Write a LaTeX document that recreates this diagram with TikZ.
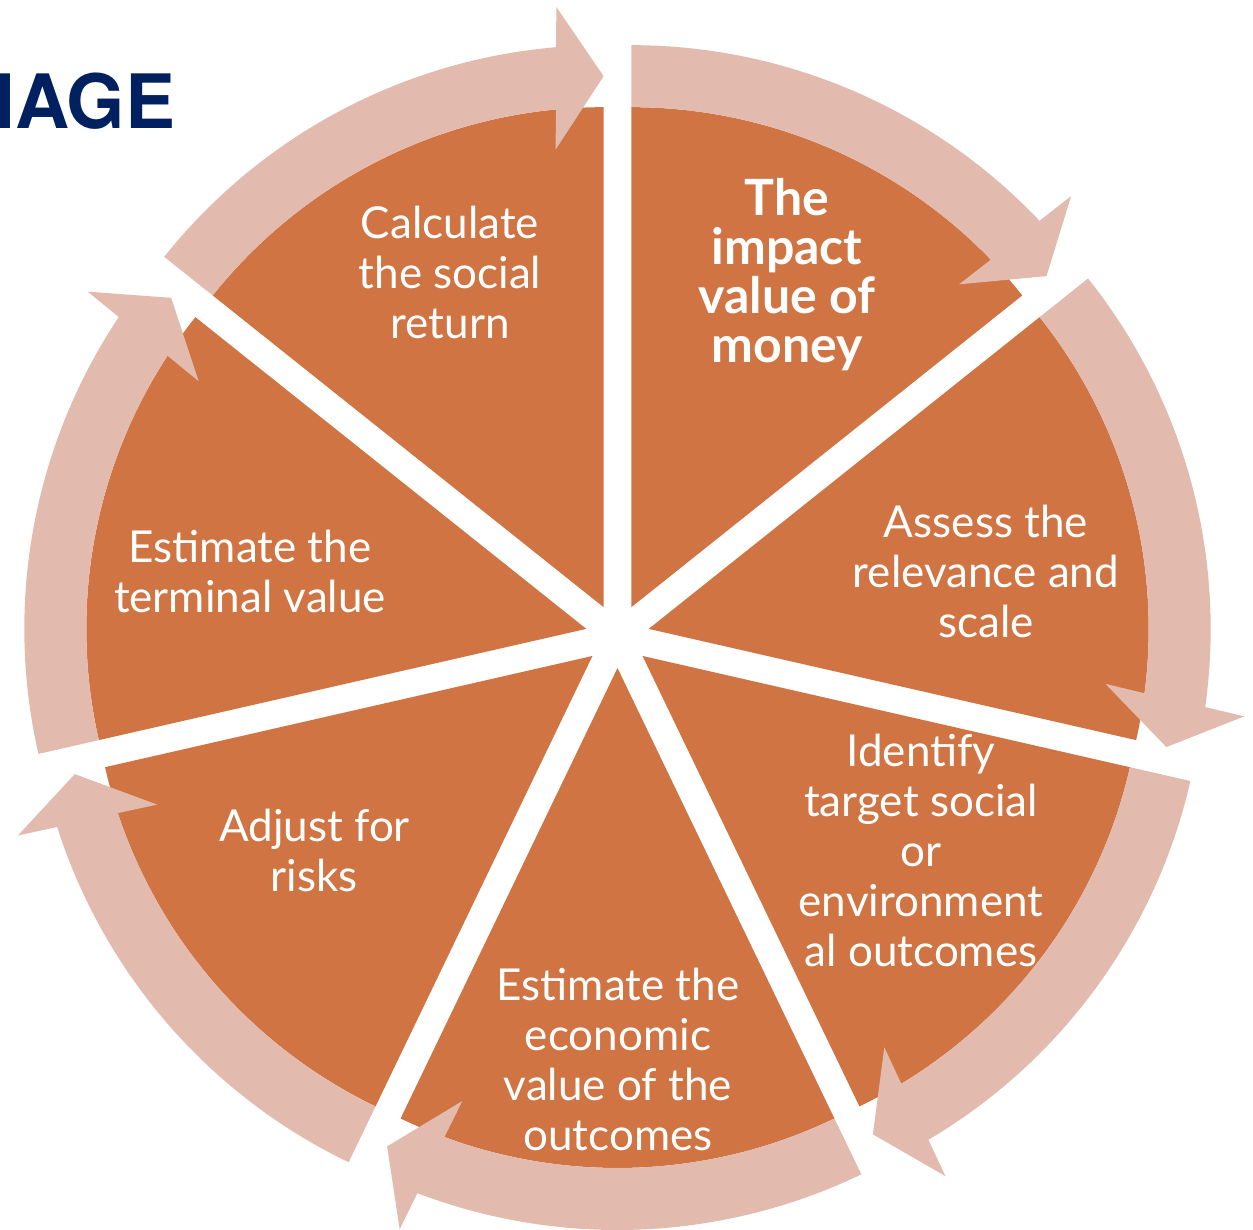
\documentclass[tikz,border=0pt]{standalone}
\usepackage{fontspec}
\setmainfont{Lato}
\newfontfamily\titlefont{TeX Gyre Heros}
\definecolor{slicecol}{HTML}{CF7442}
\definecolor{bandcol}{HTML}{E2BBAE}
\definecolor{navy}{HTML}{002060}
\begin{document}
\begin{tikzpicture}[
  slicelabel/.style={text=white, align=center, inner sep=0pt,
    font=\fontsize{44pt}{50pt}\selectfont},
  boldlabel/.style={slicelabel, font=\fontsize{50pt}{49pt}\selectfont\bfseries},
  titlelabel/.style={text=navy, inner sep=0pt, anchor=base east,
    font=\fontsize{75pt}{80pt}\titlefont\bfseries}
]
\useasboundingbox (-617.5pt,-593pt) rectangle (635.5pt,636pt);
\foreach \k in {1,...,7} {
  \pgfmathsetmacro\ae{90-51.428571*\k}
  \pgfmathsetmacro\as{\ae+51.428571}
  \pgfmathsetmacro\m{\ae+25.714286}
  \begin{scope}[shift={(\m:32pt)}]
    \fill[slicecol] (0pt,0pt) -- (\ae:500pt)
      arc[start angle=\ae, end angle=\as, radius=500pt] -- cycle;
    \fill[bandcol] (\as:500pt) -- (\as:562pt)
      arc[start angle=\as, end angle=\ae+4.86, radius=562pt]
      -- (\ae+4.5:602pt) -- (\ae:531pt) -- (\ae+6:460pt)
      -- (\ae+5.46:500pt)
      arc[start angle=\ae+5.46, end angle=\as, radius=500pt] -- cycle;
  \end{scope}
}
\node[titlelabel] (title) at (-442pt,507pt) {IAGE};
\node[boldlabel] (impact) at (169.5pt,361pt) {The\\impact\\value of\\money};
\node[slicelabel] (assess) at (368.5pt,65pt) {Assess the\\relevance and\\scale};
\node[slicelabel] (identify) at (303.5pt,-214.5pt) {Identify\\target social\\or\\environment\\al outcomes};
\node[slicelabel] (economic) at (0.5pt,-423.5pt) {Estimate the\\economic\\value of the\\outcomes};
\node[slicelabel] (risks) at (-303pt,-214.5pt) {Adjust for\\risks};
\node[slicelabel] (terminal) at (-367.5pt,65pt) {Estimate the\\terminal value};
\node[slicelabel] (calculate) at (-167.5pt,364pt) {Calculate\\the social\\return};
\end{tikzpicture}
\end{document}
